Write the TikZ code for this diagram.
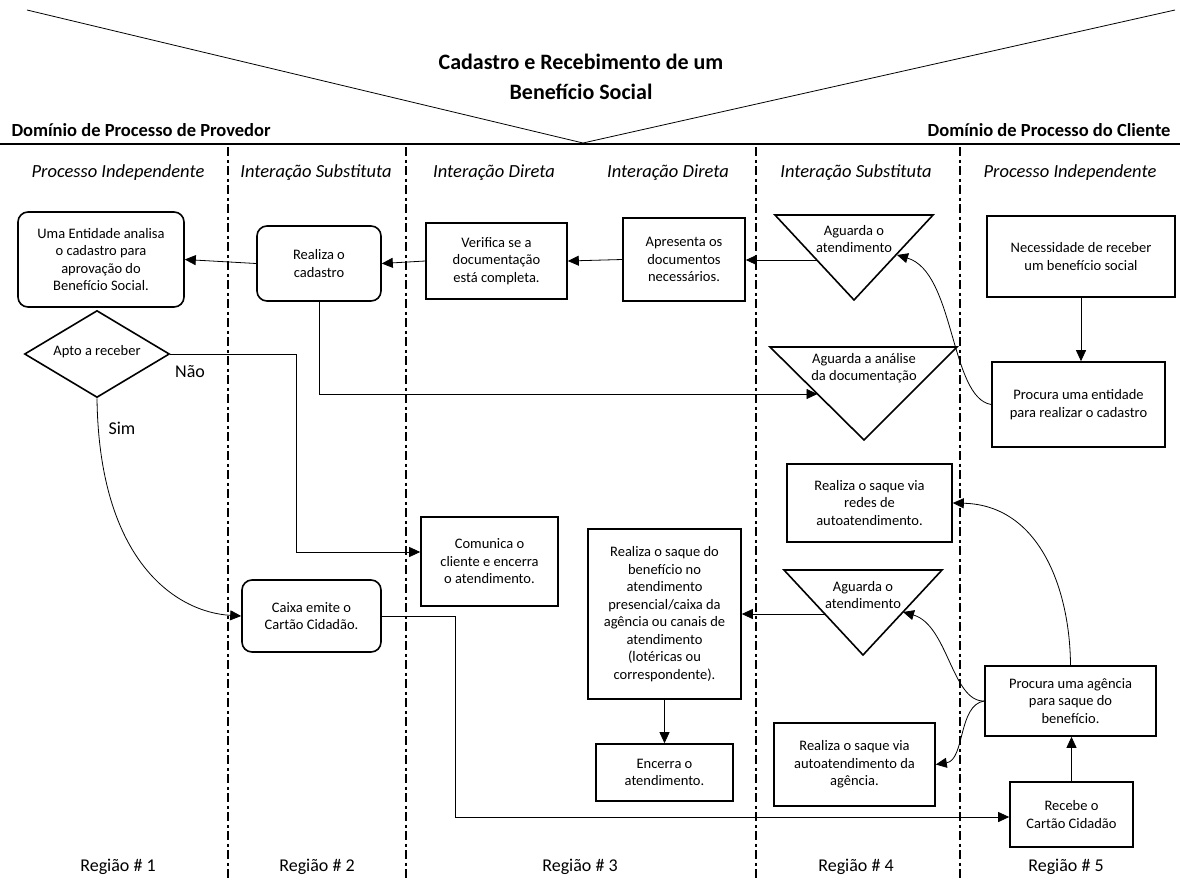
\documentclass[tikz,border=0pt]{standalone}
\usepackage{fontspec}
\setmainfont{Carlito}
\usetikzlibrary{arrows.meta,shapes.geometric}

\begin{document}
\begin{tikzpicture}[x=1pt,y=-1pt,
  txt/.style={font=\fontsize{14.5}{17.5}\selectfont,align=center},
  box/.style={draw,line width=1.6pt,align=center,inner sep=1pt,font=\fontsize{14.5}{17.5}\selectfont},
  rbox/.style={box,rounded corners=10pt},
  tri/.style={draw,line width=1.6pt,line join=miter},
  decision/.style={box,diamond,inner sep=0pt},
  conn/.style={line width=0.8pt},
  arr/.style={conn,-{Triangle[length=11pt,width=10pt]}},
  lane/.style={line width=2.6pt,dash pattern=on 9pt off 3.5pt on 3pt off 3.5pt},
  lanetitle/.style={font=\itshape\fontsize{18.5}{22}\selectfont},
  regionlbl/.style={font=\fontsize{18}{22}\selectfont},
  domainlbl/.style={font=\bfseries\fontsize{18.5}{22}\selectfont},
  branchlbl/.style={font=\fontsize{18}{22}\selectfont}
]
\useasboundingbox (0,0) rectangle (1180,881);

% heading: the V and the domain line
\coordinate (vl) at (27,10);
\coordinate (vb) at (583,143);
\coordinate (vr) at (1175,10);
\draw[line width=0.8pt] (vl) -- (vb) -- (vr);
\draw[line width=2.8pt] (0,144) -- (1180,144);
\node[font=\bfseries\fontsize{22}{30}\selectfont,align=center] (title) at (581,77)
  {Cadastro e Recebimento de um\\Benefício Social};
\node[domainlbl,anchor=west] (dprov) at (8,130) {Domínio de Processo de Provedor};
\node[domainlbl,anchor=east] (dcli) at (1174,130) {Domínio de Processo do Cliente};

% swim lane separators
\foreach \x in {228,406,756,960}
  \draw[lane] (\x,147) -- (\x,881);

% lane titles
\node[lanetitle] (l1) at (118,173) {Processo Independente};
\node[lanetitle] (l2) at (316,173) {Interação Substituta};
\node[lanetitle] (l3) at (494,173) {Interação Direta};
\node[lanetitle] (l4) at (668,173) {Interação Direta};
\node[lanetitle] (l5) at (856,173) {Interação Substituta};
\node[lanetitle] (l6) at (1070,173) {Processo Independente};

% region labels
\node[regionlbl] (r1) at (118,867) {Região \# 1};
\node[regionlbl] (r2) at (317,867) {Região \# 2};
\node[regionlbl] (r3) at (580,867) {Região \# 3};
\node[regionlbl] (r4) at (856,867) {Região \# 4};
\node[regionlbl] (r5) at (1066,867) {Região \# 5};

% provider side
\node[rbox,minimum width=166pt,minimum height=95pt] (ent) at (101,259.5)
  {Uma Entidade analisa\\o cadastro para\\aprovação do\\Benefício Social.};
\node[decision,minimum width=145pt,minimum height=87pt] (apto) at (97,354) {};
\node[txt] (aptotxt) at (97,352) {Apto a receber};
\node[rbox,minimum width=124pt,minimum height=75pt] (cad) at (319,263.5) {Realiza o\\cadastro};
\node[rbox,minimum width=139pt,minimum height=72pt] (caixa) at (311.5,616) {Caixa emite o\\Cartão Cidadão.};
\node[box,minimum width=141pt,minimum height=76pt] (ver) at (496.5,261)
  {Verifica se a\\documentação\\está completa.};
\node[box,minimum width=122pt,minimum height=83pt] (apr) at (684,259.5)
  {Apresenta os\\documentos\\necessários.};
\node[box,minimum width=137pt,minimum height=89pt] (com) at (489.5,561.5)
  {Comunica o\\cliente e encerra\\o atendimento.};
\node[box,minimum width=153pt,minimum height=170pt] (saque) at (664.5,614)
  {Realiza o saque do\\benefício no\\atendimento\\presencial/caixa da\\agência ou canais de\\atendimento\\(lotéricas ou\\correspondente).};
\node[box,minimum width=137pt,minimum height=57pt] (enc) at (664.5,772.5)
  {Encerra o\\atendimento.};

% waiting triangles
\draw[tri] (775,215) -- (933,215) -- (854,300) -- cycle;
\node[txt] (w1) at (854,239) {Aguarda o\\atendimento};
\coordinate (w1l) at (817,260);
\coordinate (w1r) at (897,255);
\draw[tri] (770,347) -- (957,347) -- (864,440) -- cycle;
\node[txt] (w2) at (864,368) {Aguarda a análise\\da documentação};
\coordinate (w2l) at (817.5,394);
\draw[tri] (784,570) -- (942,570) -- (863,655) -- cycle;
\node[txt] (w3) at (863,595) {Aguarda o\\atendimento};
\coordinate (w3l) at (825,614);
\coordinate (w3r) at (903,612);

% customer side
\node[box,minimum width=165pt,minimum height=78pt] (redes) at (869.5,503)
  {Realiza o saque via\\redes de\\autoatendimento.};
\node[box,minimum width=161pt,minimum height=83pt] (auto) at (854.5,764.5)
  {Realiza o saque via\\autoatendimento da\\agência.};
\node[box,minimum width=188pt,minimum height=81pt] (nec) at (1081,256.5)
  {Necessidade de receber\\um benefício social};
\node[box,minimum width=173pt,minimum height=85pt] (proc) at (1078.5,404.5)
  {Procura uma entidade\\para realizar o cadastro};
\node[box,minimum width=171pt,minimum height=70pt] (agen) at (1070.5,701)
  {Procura uma agência\\para saque do\\benefício.};
\node[box,minimum width=123pt,minimum height=65pt] (rec) at (1071.5,814.5)
  {Recebe o\\Cartão Cidadão};

% connectors
\draw[arr] (cad.west) -- (ent.east);
\draw[arr] (ver.west) -- (cad.east);
\draw[arr] (apr.west) -- (ver.east);
\draw[arr] (w1l) -- (w1l -| apr.east);
\draw[arr] (nec.south) -- (nec.south |- proc.north);
\draw[arr] (proc.west) .. controls (950,398) and (955,272) .. (w1r);
\draw[arr] (cad.south) |- (w2l);

\coordinate (nao) at (296,552);
\draw[arr] (apto.east) -| (nao) -- (nao -| com.west);
\node[branchlbl] (lnao) at (190,372) {Não};
\draw[arr] (apto.south) .. controls (99,560) and (175,612) .. (caixa.west);
\node[branchlbl] (lsim) at (122,428) {Sim};

\coordinate (card) at (455,817);
\draw[arr] (caixa.east) -| (card) -- (card -| rec.west);
\draw[arr] (rec.north) -- (rec.north |- agen.south);
\draw[arr] (agen.north) .. controls (1070,590) and (1040,505) .. (redes.east);
\draw[arr] (agen.west) .. controls (952,702) and (948,625) .. (w3r);
\draw[arr] (agen.west) .. controls (958,705) and (965,760) .. (auto.east);
\draw[arr] (w3l) -- (w3l -| saque.east);
\draw[arr] (saque.south) -- (saque.south |- enc.north);

\end{tikzpicture}
\end{document}
